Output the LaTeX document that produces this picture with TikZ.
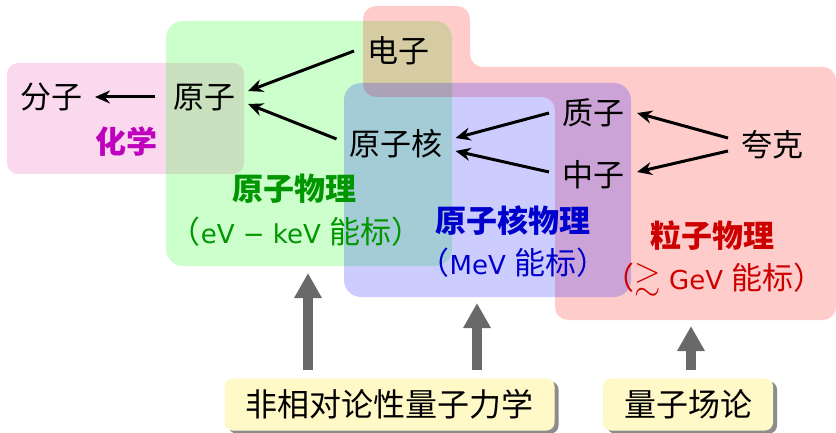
\documentclass[tikz,border=0pt]{standalone}
\usepackage{fontspec}
\usepackage{amssymb}
\setmainfont{Noto Sans CJK SC}
\newfontfamily\lat{DejaVu Sans}[Scale=0.84]
\usetikzlibrary{arrows.meta,shadows}
\definecolor{pinkreg}{RGB}{230,60,170}
\definecolor{chemc}{RGB}{190,0,190}
\definecolor{atomc}{RGB}{0,150,0}
\definecolor{nucc}{RGB}{0,0,205}
\definecolor{partc}{RGB}{205,0,0}
\definecolor{boxy}{RGB}{255,249,200}
\definecolor{arrg}{RGB}{105,105,105}
\tikzset{
  region/.style={opacity=0.2},
  lab/.style={font=\fontsize{31}{37}\selectfont, inner sep=0pt, outer xsep=13pt, text height=27.3pt, text depth=3.7pt},
  title/.style={font=\fontsize{31}{37}\selectfont\bfseries, inner sep=0pt, text height=27.3pt, text depth=3.7pt},
  sub/.style={font=\fontsize{31}{37}\selectfont, inner sep=0pt, text height=27.3pt, text depth=3.7pt},
  arr/.style={line width=3pt, -{Stealth[length=15pt,width=13pt,inset=5pt]}},
  bigarr/.style={draw=arrg, line width=10pt, -{Triangle[length=25pt,width=26pt]}, arrg},
  theory/.style={font=\fontsize{32}{38}\selectfont, fill=boxy, rounded corners=8pt, inner xsep=21pt, inner ysep=10pt, text height=28.2pt, text depth=3.8pt,
    drop shadow={shadow xshift=4pt, shadow yshift=-3pt, fill=black, opacity=0.45}}
}
\begin{document}
\begin{tikzpicture}[x=1pt,y=-1pt]
\useasboundingbox (0,0) rectangle (836,433);
% regions
\fill[pinkreg, region, rounded corners=11pt] (7,63) rectangle (244,174);
\fill[green, region, rounded corners=17pt] (166,21) rectangle (452,266);
\fill[red, region, rounded corners=13pt] (363,6) -- (470,6) -- (470,67) -- (836,67) -- (836,320) -- (555,320) -- (555,97) -- (363,97) -- cycle;
\fill[blue, region, rounded corners=17pt] (344,83) rectangle (631,297);
% particle nodes
\node[lab] (fenzi) at (51,97) {分子};
\node[lab] (yuanzi) at (204,97) {原子};
\node[lab] (dianzi) at (398,51) {电子};
\node[lab] (hezi) at (396,144) {原子核};
\node[lab] (zhizi) at (593,113) {质子};
\node[lab] (zhongzi) at (593,175) {中子};
\node[lab] (kuake) at (772,145) {夸克};
% arrows
\draw[arr] ([xshift=-5pt]yuanzi.west) -- (fenzi.east);
\draw[arr] (dianzi.west) -- ([yshift=6pt]yuanzi.east);
\draw[arr] ([yshift=5pt]hezi.west) -- ([yshift=-7pt]yuanzi.east);
\draw[arr] (zhizi.west) -- ([yshift=6pt]hezi.east);
\draw[arr] ([yshift=3pt]zhongzi.west) -- ([yshift=-7pt]hezi.east);
\draw[arr] ([yshift=7pt]kuake.west) -- (zhizi.east);
\draw[arr] ([yshift=-6pt]kuake.west) -- ([yshift=3pt]zhongzi.east);
% field labels
\node[title, text=chemc] (chem) at (126,142) {化学};
\node[title, text=atomc] (atomphys) at (294,189) {原子物理};
\node[sub, text=atomc] (atomscale) at (296,232) {（{\lat eV − keV }能标）};
\node[title, text=nucc] (nucphys) at (513,221) {原子核物理};
\node[sub, text=nucc] (nucscale) at (513,263) {（{\lat MeV }能标）};
\node[title, text=partc] (partphys) at (712,236) {粒子物理};
\node[sub, text=partc] (partscale) at (714,278) {（\raisebox{1pt}{\fontsize{34}{38}\selectfont$\gtrsim$}{\lat\ GeV }能标）};
% theories
\node[theory] (nrqm) at (389.5,404.5) {非相对论性量子力学};
\node[theory] (qft) at (688,404.5) {量子场论};
\coordinate (a1s) at (308,370); \coordinate (a1e) at (308,273);
\coordinate (a2s) at (477,370); \coordinate (a2e) at (477,303);
\coordinate (a3s) at (691,370); \coordinate (a3e) at (691,326);
\draw[bigarr] (a1s) -- (a1e);
\draw[bigarr] (a2s) -- (a2e);
\draw[bigarr] (a3s) -- (a3e);
\end{tikzpicture}
\end{document}
